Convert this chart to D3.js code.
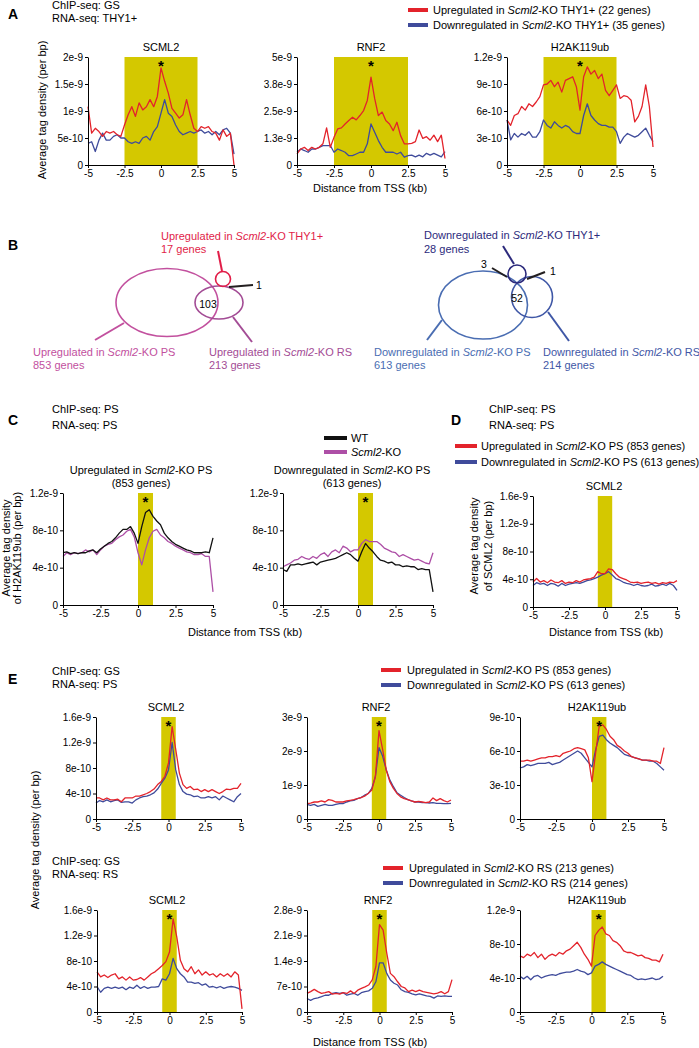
<html>
<head>
<title> Scml2 tag density profiles </title>
<script src="https://d3js.org/d3.v7.min.js"></script>
<style>
body {
  margin: 0;
  background: white;
}
svg text {
  font-family: "Liberation Sans", Arial, sans-serif;
}
.tick text {
  font-size: 10px;
}
</style>
</head>
<body>
<svg id="fig" width="699" height="1048"></svg>

<script>

// x grid of every profile (kb from TSS)
const distanceKb = [-5,-4.75,-4.5,-4.25,-4,-3.75,-3.5,-3.25,-3,-2.75,
  -2.5,-2.25,-2,-1.75,-1.5,-1.25,-1,-0.75,-0.5,-0.25,
  0,0.25,0.5,0.75,1,1.25,1.5,1.75,2,2.25,
  2.5,2.75,3,3.25,3.5,3.75,4,4.25,4.5,4.75,5];
const xTicks = [-5, -2.5, 0, 2.5, 5];
const xTickLabels = ["-5", "-2.5", "0", "2.5", "5"];

// all densities below are in units of 1e-10 per bp
// panel A (ChIP GS, RNA THY1+)
const scmlA_up   = [10.8,5.9,6.8,6.2,5.3,6.2,5.9,6.2,5.6,5.3, 7.4,9.3,10.8,9.0,11.5,10.2,10.8,12.1,10.8,12.7, 18.0,15.5,13.3,10.5,9.6,8.7,9.3,12.1,9.3,6.8, 6.2,7.1,6.8,7.1,6.2,5.9,4.6,6.5,5.3,5.9, 0];
const scmlA_down = [4.0,4.3,2.5,4.6,5.9,4.6,4.6,5.3,5.6,5.0, 5.0,4.3,4.0,4.3,4.0,5.0,5.3,4.6,6.2,7.1, 9.6,12.1,9.6,9.0,7.4,6.2,5.6,5.9,6.2,5.9, 6.2,6.5,5.9,6.2,5.6,6.2,5.6,6.5,6.8,5.9, 2.0];
const rnf2A_up   = [5.1,7.4,8.2,6.7,8.2,7.4,8.2,9.8,17.2,8.2, 12.8,16.7,17.2,19.0,20.6,22.1,20.9,22.9,25.2,29.9, 40.7,30.7,22.9,24.5,20.6,19.0,15.9,19.8,13.6,9.8, 9.8,10.0,10.8,16.2,12.3,13.1,11.5,13.8,10.8,13.8, 3.0];
const rnf2A_down = [5.9,7.4,6.7,5.9,7.4,7.4,8.2,9.0,9.0,9.0, 5.9,7.4,6.7,5.9,4.3,4.3,5.1,5.9,5.9,9.8, 19.0,15.2,11.3,8.2,5.9,5.9,5.9,5.1,5.9,3.6, 4.3,4.6,3.8,4.6,3.8,5.4,4.6,5.4,4.6,3.8, 6.2];
const h2aA_up    = [5.0,4.4,5.5,5.7,6.5,6.1,6.8,6.5,7.0,7.6, 8.9,9.0,9.4,8.7,9.2,8.1,9.4,9.6,9.8,8.7, 6.1,9.8,10.9,10.1,10.5,9.6,10.1,8.3,7.7,8.3, 8.9,7.4,7.7,7.6,7.2,4.8,5.4,6.5,8.9,6.5, 2.0];
const h2aA_down  = [5.0,2.8,3.5,3.1,3.5,3.3,3.7,3.1,3.1,3.7, 5.0,4.4,4.1,4.8,4.4,4.1,4.4,4.2,3.7,3.5, 3.5,5.5,6.8,5.5,5.0,4.6,4.4,4.4,4.2,4.2, 3.7,2.4,3.1,3.5,3.3,3.1,3.3,3.7,4.1,3.3, 2.6];

// panel C (H2AK119ub in PS, WT vs KO)
const h2aC_upWT   = [5.6,5.7,5.5,5.6,5.5,5.6,5.6,5.8,5.9,5.6, 6.0,6.3,6.6,6.8,7.2,7.7,8.1,8.1,8.4,7.7, 6.6,8.4,9.9,10.2,9.5,9.0,8.6,7.7,7.2,6.8, 6.5,6.3,6.1,5.9,5.8,5.6,5.6,5.6,5.7,5.6, 7.2];
const h2aC_upKO   = [5.2,5.6,5.4,5.6,5.5,5.6,5.9,5.7,5.9,5.4, 5.9,6.3,6.5,6.6,7.0,7.3,7.5,7.9,8.1,7.3, 5.6,4.3,5.9,7.2,7.9,8.1,7.5,7.2,6.8,6.6, 6.3,6.1,5.9,5.7,5.6,5.4,5.4,5.5,5.2,5.2, 1.4];
const h2aC_downWT = [3.8,3.6,4.3,4.3,4.4,4.3,4.4,4.5,4.6,4.3, 4.6,4.7,4.8,4.9,5.0,5.2,5.4,5.6,5.4,5.0, 4.7,5.7,6.6,6.1,5.7,5.2,4.8,4.7,4.5,4.6, 4.3,4.3,4.1,4.2,4.1,4.1,3.8,3.9,3.8,3.8, 1.4];
const h2aC_downKO = [4.1,4.3,4.5,4.8,4.9,5.2,5.0,4.9,5.2,5.0, 5.4,5.6,5.2,5.7,5.9,5.6,6.3,6.1,5.7,5.9, 5.9,6.6,7.0,6.8,6.8,6.8,6.5,6.1,5.9,5.7, 5.6,5.2,5.4,5.2,5.0,4.8,4.9,4.7,4.5,4.4, 5.6];

// panel D (SCML2 in PS)
const scmlD_up   = [3.6,4.1,3.6,3.8,3.5,3.9,3.6,3.5,3.8,3.4, 3.6,3.5,3.8,3.6,3.9,4.0,4.1,4.3,5.1,4.8, 4.8,5.5,5.4,4.8,4.3,4.1,3.9,3.6,3.5,3.6, 3.4,3.5,3.6,3.4,3.5,3.3,3.5,3.4,3.6,3.5, 3.8];
const scmlD_down = [3.1,3.5,3.3,3.4,3.1,3.4,3.3,3.0,3.4,3.1, 3.3,3.4,3.5,3.4,3.6,3.8,3.9,4.1,4.3,4.6, 4.8,5.1,4.6,4.1,3.9,3.6,3.4,3.3,3.1,3.3, 3.1,3.0,3.1,3.3,3.0,3.1,3.3,3.1,3.4,3.1, 2.4];

// panel E top (ChIP GS, RNA PS)
const scmlE1_up   = [3.3,3.3,3.0,3.3,3.0,3.0,3.1,2.7,3.3,3.3, 3.3,3.6,3.6,3.8,4.0,4.3,4.7,5.4,5.9,6.7, 8.8,14.5,10.9,7.2,5.4,4.8,5.1,4.6,4.7,4.3, 4.6,4.3,4.6,4.3,4.0,4.3,4.7,4.6,4.8,4.8, 5.6];
const scmlE1_down = [2.5,2.9,2.7,3.0,2.7,2.9,3.0,2.6,2.7,2.7, 2.5,3.0,3.3,3.5,3.6,3.8,4.1,4.7,5.6,6.4, 7.7,12.0,7.7,5.4,4.3,3.9,3.8,3.5,3.6,3.3, 3.3,3.5,3.3,3.5,3.0,3.6,3.3,3.0,2.7,3.5, 4.0];
const rnf2E1_up   = [4.5,4.7,5.0,5.0,5.3,5.0,5.7,5.5,5.0,5.0, 5.0,5.3,5.5,5.7,6.0,6.3,6.7,7.5,8.5,12.5, 26.0,20.5,14.5,11.0,9.0,7.5,6.5,6.0,5.7,5.3, 5.0,5.2,5.0,4.8,5.0,6.2,5.4,6.0,5.4,5.0, 5.6];
const rnf2E1_down = [4.3,4.0,4.3,3.7,4.0,4.3,4.0,4.0,4.3,4.5, 4.5,5.0,5.3,5.5,6.0,6.3,7.0,7.5,9.0,12.5, 21.0,18.5,14.5,11.5,9.5,7.7,7.0,6.3,5.7,5.3, 5.0,5.0,4.8,4.8,4.7,4.8,4.6,4.6,4.5,4.5, 4.6];
const h2aE1_up    = [5.1,5.1,5.2,5.1,5.2,5.3,5.4,5.4,5.5,5.5, 5.6,5.5,5.8,5.9,6.0,6.2,6.3,6.2,6.1,5.4, 3.3,5.8,8.2,8.3,7.9,7.3,7.0,6.5,6.3,6.0, 5.8,5.5,5.4,5.3,5.2,5.2,5.2,5.1,5.1,4.9, 6.3];
const h2aE1_down  = [4.5,4.6,4.8,4.7,4.8,4.9,4.9,4.9,5.0,4.8, 4.9,5.0,5.2,5.4,5.6,5.8,6.0,5.8,5.4,5.0, 4.6,6.1,7.3,7.4,7.0,6.7,6.5,6.3,6.0,5.7, 5.6,5.5,5.4,5.3,5.2,5.2,5.1,5.1,4.9,4.6, 4.3];

// panel E bottom (ChIP GS, RNA RS)
const scmlE2_up   = [6.3,5.5,5.8,5.4,5.8,6.0,5.2,5.5,5.0,5.5, 5.0,5.1,5.4,5.0,5.5,6.0,6.3,6.8,7.3,7.9, 9.4,14.6,11.8,8.1,6.8,6.3,7.1,6.0,6.6,5.8, 6.3,5.8,6.0,5.5,6.0,5.6,6.0,5.5,6.3,5.8, 0.5];
const scmlE2_down = [4.0,3.1,3.7,3.9,3.7,3.9,3.7,3.9,3.5,3.9, 3.7,4.2,3.7,4.0,3.7,3.9,3.9,4.0,5.2,5.0, 6.0,8.4,6.8,6.0,5.5,4.7,4.7,4.5,4.6,4.2, 4.4,3.9,4.0,3.8,4.0,3.7,3.9,4.0,3.9,3.7, 3.4];
const rnf2E2_up   = [5.1,5.6,6.2,5.6,5.1,5.3,5.6,4.9,5.1,4.9, 5.3,5.1,5.8,5.1,6.0,6.5,6.9,7.4,8.8,12.5, 24.0,22.5,16.2,10.6,9.7,8.3,7.0,6.6,5.6,6.0, 5.6,6.0,5.6,5.4,5.2,5.0,5.2,5.6,5.0,5.6, 8.9];
const rnf2E2_down = [3.7,3.2,3.7,3.9,4.2,4.6,4.6,5.1,5.3,5.1, 5.3,4.6,4.9,5.1,4.6,5.3,5.6,5.8,6.5,8.3, 13.5,13.5,10.6,8.8,7.9,7.4,6.1,5.6,5.4,5.0, 4.7,5.0,4.7,4.4,4.3,3.8,4.4,4.3,4.4,4.3, 4.3];
const h2aE2_up    = [6.6,6.4,6.8,6.6,7.0,6.4,6.8,6.2,6.6,6.8, 6.6,7.0,6.8,7.2,7.4,7.8,8.2,7.6,6.8,6.2, 5.4,9.0,9.6,10.0,9.2,9.0,8.4,8.2,7.8,7.2, 7.0,7.0,6.8,6.6,6.7,6.4,6.3,6.1,6.1,5.9, 6.8];
const h2aE2_down  = [4.2,3.9,4.2,3.8,4.2,4.3,4.0,4.2,4.3,4.4, 4.3,4.5,4.6,4.7,4.7,4.8,5.0,4.8,4.7,4.4, 4.6,5.4,5.6,5.9,5.6,5.4,5.2,5.0,4.8,4.6, 4.4,4.3,4.0,3.8,3.9,3.8,3.9,4.0,3.8,3.9, 4.2];

// y tick values (1e-10 units) and their printed labels
const ticksScmlA = [0, 5, 10, 15, 20],   labelsScmlA = ["0", "5e-10", "1e-9", "1.5e-9", "2e-9"];
const ticksRnf2A = [0, 12.5, 25, 37.5, 50], labelsRnf2A = ["0", "1.3e-9", "2.5e-9", "3.8e-9", "5e-9"];
const ticksH2aA  = [0, 3, 6, 9, 12],     labelsH2aA  = ["0", "3e-10", "6e-10", "9e-10", "1.2e-9"];
const ticksC     = [0, 4, 8, 12],        labelsC     = ["0", "4e-10", "8e-10", "1.2e-9"];
const ticks16    = [0, 4, 8, 12, 16],    labels16    = ["0", "4e-10", "8e-10", "1.2e-9", "1.6e-9"];
const ticksRnf2E1 = [0, 10, 20, 30],     labelsRnf2E1 = ["0", "1e-9", "2e-9", "3e-9"];
const ticksH2aE1  = [0, 3, 6, 9],        labelsH2aE1  = ["0", "3e-10", "6e-10", "9e-10"];
const ticksRnf2E2 = [0, 7, 14, 21, 28],  labelsRnf2E2 = ["0", "7e-10", "1.4e-9", "2.1e-9", "2.8e-9"];
const ticksH2aE2  = [0, 4, 8, 12],       labelsH2aE2  = ["0", "4e-10", "8e-10", "1.2e-9"];

// venn counts (panel B)
const vennUpGenes   = [17, 853, 213, 103, 1];
const vennDownGenes = [28, 613, 214, 52, 3, 1];

const RED = "#e3232b";
const BLUE = "#3f4b9b";
const PURPLE = "#ad4fa6";
const YELLOW = "#d4c800";

const svg = d3.select("svg#fig");

// text helper, puts Scml2 in italics
function addText(x, y, str, opt) {
  opt = opt || {};
  const t = svg.append("text").attr("x", x).attr("y", y)
      .attr("font-size", opt.size || 11)
      .attr("text-anchor", opt.anchor || "start");
  if (opt.color) t.style("fill", opt.color);
  if (opt.bold) t.attr("font-weight", "bold");
  if (opt.rotate) t.attr("transform", `rotate(-90,${x},${y})`);
  str.split(/(Scml2)/).forEach(part => {
    if (!part) return;
    const s = t.append("tspan").text(part);
    if (part === "Scml2") s.attr("font-style", "italic");
  });
  return t;
}

function legendLine(x0, x1, y, color) {
  svg.append("line").attr("x1", x0).attr("x2", x1).attr("y1", y).attr("y2", y)
     .attr("stroke", color).attr("stroke-width", 4);
}

// one tag-density profile
function profile(p) {
  const g = svg.append("g");
  const x = d3.scaleLinear().domain([-5, 5]).range([p.x0, p.x1]);
  const y = d3.scaleLinear().domain([0, p.top]).range([p.y1, p.y0]);

  g.append("rect")
    .attr("x", x(p.band[0])).attr("y", p.y0)
    .attr("width", x(p.band[1]) - x(p.band[0])).attr("height", p.y1 - p.y0)
    .attr("fill", YELLOW);

  const line = d3.line().x((d, i) => x(distanceKb[i])).y(d => y(d));
  p.series.forEach(s => {
    g.append("path").datum(s.values)
      .attr("fill", "none").attr("stroke", s.color)
      .attr("stroke-width", 1.3).attr("stroke-linejoin", "round")
      .attr("d", line);
  });

  g.append("g").attr("class", "axis")
    .attr("transform", `translate(0,${p.y1})`)
    .call(d3.axisBottom(x).tickValues(xTicks).tickFormat((d, i) => xTickLabels[i])
          .tickSize(3).tickSizeOuter(0).tickPadding(2));
  g.append("g").attr("class", "axis")
    .attr("transform", `translate(${p.x0},0)`)
    .call(d3.axisLeft(y).tickValues(p.ticks).tickFormat((d, i) => p.labels[i])
          .tickSize(3).tickSizeOuter(0).tickPadding(2));

  const tx = p.titleX || (p.x0 + p.x1) / 2;
  if (p.title2) {
    addText(tx, p.y0 - 19, p.title, {anchor: "middle"});
    addText(tx, p.y0 - 6, p.title2, {anchor: "middle"});
  } else {
    addText(tx, p.y0 - 6, p.title, {anchor: "middle"});
  }
  if (p.star) {
    g.append("text").attr("x", x((p.band[0] + p.band[1]) / 2)).attr("y", p.y0 + 14)
      .attr("text-anchor", "middle").attr("font-size", 15).attr("font-weight", "bold")
      .text("*");
  }
}

// ---------------- panel A ----------------
addText(8, 19, "A", {size: 14, bold: true});
addText(52, 9, "ChIP-seq: GS");
addText(52, 22, "RNA-seq: THY1+");
legendLine(408, 428, 10, RED);
addText(433, 14, "Upregulated in Scml2-KO THY1+ (22 genes)");
legendLine(408, 428, 25, BLUE);
addText(433, 29, "Downregulated in Scml2-KO THY1+ (35 genes)");

profile({x0: 88, x1: 234, y0: 57, y1: 165, top: 20, ticks: ticksScmlA, labels: labelsScmlA,
  band: [-2.5, 2.5], title: "SCML2", star: true,
  series: [{values: scmlA_down, color: BLUE}, {values: scmlA_up, color: RED}]});
profile({x0: 297, x1: 445, y0: 57, y1: 165, top: 50, ticks: ticksRnf2A, labels: labelsRnf2A,
  band: [-2.5, 2.5], title: "RNF2", star: true,
  series: [{values: rnf2A_down, color: BLUE}, {values: rnf2A_up, color: RED}]});
profile({x0: 507, x1: 653, y0: 57, y1: 165, top: 12, ticks: ticksH2aA, labels: labelsH2aA,
  band: [-2.5, 2.5], title: "H2AK119ub", star: true,
  series: [{values: h2aA_down, color: BLUE}, {values: h2aA_up, color: RED}]});
addText(46, 110, "Average tag density (per bp)", {anchor: "middle", rotate: true});
addText(370, 192, "Distance from TSS (kb)", {anchor: "middle"});

// ---------------- panel B ----------------
addText(8, 250, "B", {size: 14, bold: true});

function ell(cx, cy, rx, ry, color) {
  svg.append("ellipse").attr("cx", cx).attr("cy", cy).attr("rx", rx).attr("ry", ry)
     .attr("fill", "none").attr("stroke", color).attr("stroke-width", 1.6);
}
function seg(x1, y1, x2, y2, color) {
  svg.append("line").attr("x1", x1).attr("y1", y1).attr("x2", x2).attr("y2", y2)
     .attr("stroke", color).attr("stroke-width", 2);
}

const upThy = "#e11d48", upPS = "#c2509e", upRS = "#a34c95";
ell(167, 302.5, 51, 34, upPS);
ell(219, 302.5, 24, 16.5, upRS);
ell(223, 279, 7.5, 7.5, upThy);
seg(218, 251, 222, 271, upThy);
seg(124, 323, 95, 340, upPS);
seg(233, 317, 252, 342, upRS);
seg(229, 287, 253, 285, "#231f20");
addText(256, 289, String(vennUpGenes[4]), {size: 10.5});
addText(208, 308, String(vennUpGenes[3]), {size: 10.5, anchor: "middle"});
addText(161, 240, "Upregulated in Scml2-KO THY1+", {color: upThy});
addText(161, 253, vennUpGenes[0] + " genes", {color: upThy});
addText(33, 356, "Upregulated in Scml2-KO PS", {color: upPS});
addText(33, 369, vennUpGenes[1] + " genes", {color: upPS});
addText(209, 356, "Upregulated in Scml2-KO RS", {color: upRS});
addText(209, 369, vennUpGenes[2] + " genes", {color: upRS});

const dnThy = "#2c2a7c", dnPS = "#4a6db2", dnRS = "#3f57a6";
ell(483, 305, 44.5, 34, dnPS);
ell(532, 297, 20.5, 20.5, dnRS);
ell(517, 274, 9, 9, dnThy);
seg(514, 264, 503, 246, dnThy);
seg(442, 320, 427, 340, dnPS);
seg(548, 312, 569, 341, dnRS);
seg(492, 268, 507, 277, "#231f20");
seg(527, 279, 545, 272, "#231f20");
addText(484, 268, String(vennDownGenes[4]), {size: 10.5, anchor: "middle"});
addText(550, 275, String(vennDownGenes[5]), {size: 10.5});
addText(517, 302, String(vennDownGenes[3]), {size: 10.5, anchor: "middle"});
addText(424, 239, "Downregulated in Scml2-KO THY1+", {color: dnThy});
addText(424, 253, vennDownGenes[0] + " genes", {color: dnThy});
addText(374, 356, "Downregulated in Scml2-KO PS", {color: dnPS});
addText(374, 369, vennDownGenes[1] + " genes", {color: dnPS});
addText(543, 356, "Downregulated in Scml2-KO RS", {color: dnRS});
addText(543, 369, vennDownGenes[2] + " genes", {color: dnRS});

// ---------------- panel C ----------------
addText(8, 425, "C", {size: 14, bold: true});
addText(52, 413, "ChIP-seq: PS");
addText(52, 429, "RNA-seq: PS");
legendLine(324, 347, 438, "#111");
addText(351, 442, "WT");
legendLine(324, 347, 452, PURPLE);
addText(351, 456, "Scml2-KO");

profile({x0: 63, x1: 213, y0: 493, y1: 605, top: 12, ticks: ticksC, labels: labelsC,
  band: [0, 1], title: "Upregulated in Scml2-KO PS", title2: "(853 genes)", titleX: 141, star: true,
  series: [{values: h2aC_upKO, color: PURPLE}, {values: h2aC_upWT, color: "#111"}]});
profile({x0: 283, x1: 433, y0: 493, y1: 605, top: 12, ticks: ticksC, labels: labelsC,
  band: [0, 1], title: "Downregulated in Scml2-KO PS", title2: "(613 genes)", titleX: 352, star: true,
  series: [{values: h2aC_downWT, color: "#111"}, {values: h2aC_downKO, color: PURPLE}]});
addText(10, 548, "Average tag density", {anchor: "middle", rotate: true});
addText(21, 548, "of H2AK119ub (per bp)", {anchor: "middle", rotate: true});
addText(245, 636, "Distance from TSS (kb)", {anchor: "middle"});

// ---------------- panel D ----------------
addText(451, 425, "D", {size: 14, bold: true});
addText(489, 413, "ChIP-seq: PS");
addText(489, 429, "RNA-seq: PS");
legendLine(455, 477, 446, RED);
addText(481, 450, "Upregulated in Scml2-KO PS (853 genes)");
legendLine(455, 477, 462, BLUE);
addText(481, 466, "Downregulated in Scml2-KO PS (613 genes)");

profile({x0: 533, x1: 677, y0: 496, y1: 607, top: 16, ticks: ticks16, labels: labels16,
  band: [-0.5, 0.5], title: "SCML2", titleX: 604, star: false,
  series: [{values: scmlD_down, color: BLUE}, {values: scmlD_up, color: RED}]});
addText(478, 546, "Average tag density", {anchor: "middle", rotate: true});
addText(492, 546, "of SCML2 (per bp)", {anchor: "middle", rotate: true});
addText(606, 636, "Distance from TSS (kb)", {anchor: "middle"});

// ---------------- panel E ----------------
addText(8, 684, "E", {size: 14, bold: true});
addText(52, 675, "ChIP-seq: GS");
addText(52, 688, "RNA-seq: PS");
legendLine(381, 401, 670, RED);
addText(407, 674, "Upregulated in Scml2-KO PS (853 genes)");
legendLine(381, 401, 685, BLUE);
addText(407, 689, "Downregulated in Scml2-KO PS (613 genes)");

profile({x0: 96, x1: 241, y0: 717, y1: 819, top: 16, ticks: ticks16, labels: labels16,
  band: [-0.5, 0.5], title: "SCML2", titleX: 166, star: true,
  series: [{values: scmlE1_down, color: BLUE}, {values: scmlE1_up, color: RED}]});
profile({x0: 307, x1: 451, y0: 717, y1: 819, top: 30, ticks: ticksRnf2E1, labels: labelsRnf2E1,
  band: [-0.5, 0.5], title: "RNF2", titleX: 376, star: true,
  series: [{values: rnf2E1_down, color: BLUE}, {values: rnf2E1_up, color: RED}]});
profile({x0: 520, x1: 664, y0: 717, y1: 819, top: 9, ticks: ticksH2aE1, labels: labelsH2aE1,
  band: [0, 1], title: "H2AK119ub", titleX: 597, star: true,
  series: [{values: h2aE1_down, color: BLUE}, {values: h2aE1_up, color: RED}]});

addText(52, 865, "ChIP-seq: GS");
addText(52, 878, "RNA-seq: RS");
legendLine(383, 403, 868, RED);
addText(409, 872, "Upregulated in Scml2-KO RS (213 genes)");
legendLine(383, 403, 883, BLUE);
addText(409, 887, "Downregulated in Scml2-KO RS (214 genes)");

profile({x0: 97, x1: 242, y0: 910, y1: 1012, top: 16, ticks: ticks16, labels: labels16,
  band: [-0.5, 0.5], title: "SCML2", titleX: 167, star: true,
  series: [{values: scmlE2_down, color: BLUE}, {values: scmlE2_up, color: RED}]});
profile({x0: 307, x1: 452, y0: 910, y1: 1012, top: 28, ticks: ticksRnf2E2, labels: labelsRnf2E2,
  band: [-0.5, 0.5], title: "RNF2", titleX: 378, star: true,
  series: [{values: rnf2E2_down, color: BLUE}, {values: rnf2E2_up, color: RED}]});
profile({x0: 520, x1: 663, y0: 910, y1: 1012, top: 12, ticks: ticksH2aE2, labels: labelsH2aE2,
  band: [0, 1], title: "H2AK119ub", titleX: 597, star: true,
  series: [{values: h2aE2_down, color: BLUE}, {values: h2aE2_up, color: RED}]});

addText(39, 840, "Average tag density (per bp)", {anchor: "middle", rotate: true});
addText(370, 1046, "Distance from TSS (kb)", {anchor: "middle"});

</script>
</body>
</html>
